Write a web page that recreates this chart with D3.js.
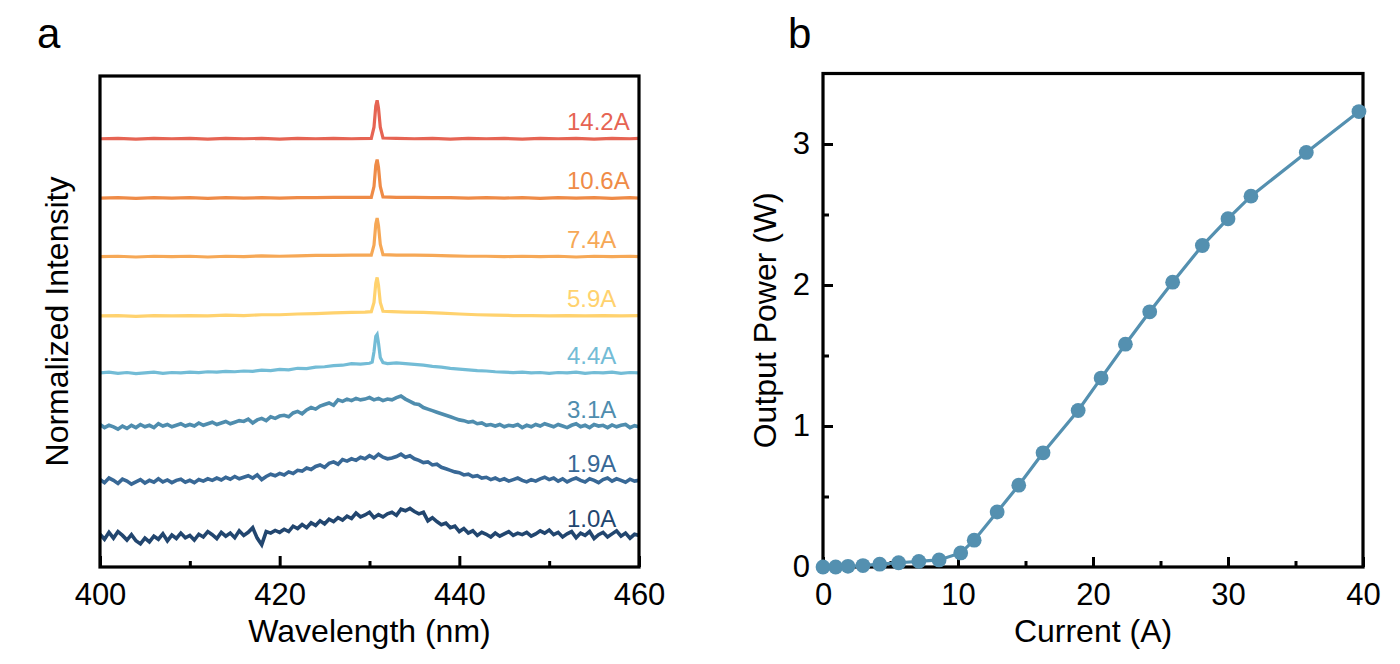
<!DOCTYPE html>
<html><head><meta charset="utf-8">
<script src="https://cdn.jsdelivr.net/npm/d3@7"></script>
<style>
body{margin:0;background:#fff}
svg{display:block;font-family:"Liberation Sans",Arial,Helvetica,sans-serif}
</style>
</head><body>
<svg id="chart" width="1400" height="664"></svg>
<script>
// ---------------- DATA ----------------
// Panel a: spectra
const seriesLabels = ["1.0A","1.9A","3.1A","4.4A","5.9A","7.4A","10.6A","14.2A"];
const seriesOffsets = [0.80, 2.23, 3.64, 5.04, 6.52, 8.06, 9.58, 11.12];
const seriesColors = ["#22466F","#386896","#4F8DAE","#73BCD6","#FFD26E","#F6A856","#EF8B47","#E66453"];
const wavelengthTicks = [400, 420, 440, 460];
const wavelengthMinorTicks = [410, 430, 450];

// dense spectra sampled every 0.5 nm from 400 to 460 nm
const gridStart = 400, gridStep = 0.5;
const spec1p0 = [
 0.05,-0.08,0.10,-0.05,0.12,0.02,-0.10,0.04,-0.12,-0.20,-0.05,-0.15,0.00,-0.08,0.06,-0.12,0.03,-0.06,0.08,-0.04,
 0.02,-0.10,0.05,-0.02,0.12,0.04,-0.06,0.10,0.00,0.08,-0.04,0.14,0.02,0.10,0.22,-0.05,-0.22,0.12,0.08,0.15,
 0.10,0.18,0.12,0.26,0.20,0.30,0.22,0.35,0.28,0.40,0.32,0.44,0.38,0.48,0.42,0.52,0.46,0.60,0.50,0.55,
 0.62,0.48,0.56,0.50,0.58,0.62,0.54,0.70,0.66,0.72,0.64,0.58,0.62,0.40,0.48,0.38,0.30,0.34,0.22,0.26,
 0.12,0.20,0.08,0.14,0.02,0.10,0.05,-0.02,0.08,0.00,0.06,0.12,0.02,0.08,0.04,0.10,0.00,0.06,0.14,0.08,
 0.16,0.04,0.10,-0.02,0.06,0.12,-0.04,0.08,0.02,0.12,-0.06,0.04,0.10,-0.02,0.06,0.14,0.00,0.08,-0.05,0.05,0.02];
const spec1p9 = [
 0.04,-0.04,0.08,0.02,-0.06,0.05,0.00,-0.08,-0.02,0.04,-0.05,0.02,-0.03,0.06,-0.02,0.03,-0.04,0.02,0.05,-0.03,
 0.02,-0.04,0.04,0.00,0.06,0.02,0.08,0.03,0.10,0.05,0.12,0.06,0.10,0.14,0.08,0.16,0.04,0.12,0.18,0.14,
 0.20,0.16,0.24,0.20,0.28,0.26,0.34,0.30,0.38,0.42,0.36,0.46,0.50,0.44,0.56,0.52,0.58,0.54,0.62,0.58,
 0.66,0.60,0.70,0.62,0.58,0.60,0.64,0.70,0.62,0.66,0.58,0.54,0.48,0.50,0.42,0.44,0.36,0.32,0.28,0.24,
 0.22,0.16,0.18,0.12,0.14,0.08,0.10,0.04,0.08,0.02,0.06,0.00,0.04,0.08,0.02,-0.02,0.04,0.00,0.06,0.10,
 0.04,0.08,0.00,0.06,-0.02,0.04,0.08,0.02,-0.02,0.06,0.02,-0.04,0.04,0.08,0.00,0.06,0.02,-0.03,0.05,0.00,0.02];
const spec3p1 = [
 0.06,-0.02,0.04,0.00,-0.06,0.02,-0.04,0.04,-0.02,0.06,0.00,0.04,-0.02,0.08,0.02,0.06,0.00,0.04,0.08,0.02,
 0.06,0.02,0.10,0.04,0.08,0.12,0.06,0.10,0.14,0.08,0.12,0.16,0.14,0.20,0.10,0.18,0.22,0.16,0.26,0.22,
 0.28,0.30,0.26,0.36,0.40,0.34,0.44,0.50,0.46,0.54,0.58,0.62,0.56,0.70,0.66,0.72,0.68,0.74,0.70,0.72,
 0.76,0.70,0.74,0.68,0.72,0.70,0.76,0.80,0.72,0.66,0.60,0.58,0.50,0.46,0.42,0.38,0.34,0.30,0.26,0.22,
 0.18,0.16,0.12,0.14,0.08,0.10,0.04,0.06,0.02,0.06,0.00,0.04,0.02,0.06,-0.02,0.04,0.00,0.06,0.02,0.08,
 0.04,0.00,0.06,0.02,-0.02,0.04,0.08,0.00,0.04,-0.02,0.06,0.02,0.04,-0.02,0.05,0.00,0.04,0.06,-0.02,0.03,0.00];

// sparse spectra as [wavelength nm, intensity]
const spec4p4 = [[400,0.00],[401,0.02],[402,-0.01],[403,0.01],[404,-0.02],[405,0.00],[406,0.02],[407,-0.01],[408,0.01],[409,0.00],
 [410,0.02],[411,0.01],[412,0.03],[413,0.02],[414,0.04],[415,0.03],[416,0.05],[417,0.04],[418,0.07],[419,0.06],
 [420,0.09],[421,0.08],[422,0.12],[423,0.11],[424,0.15],[425,0.16],[426,0.19],[427,0.20],[428,0.24],[429,0.23],
 [430,0.25],[430.3,0.28],[430.5,0.55],[430.7,0.95],[430.85,1.0],[431.0,0.78],[431.2,0.40],[431.5,0.27],[432,0.24],[433,0.26],
 [434,0.24],[435,0.22],[436,0.20],[437,0.17],[438,0.15],[439,0.12],[440,0.10],[441,0.08],[442,0.06],[443,0.05],
 [444,0.03],[445,0.02],[446,0.01],[447,0.02],[448,0.00],[449,0.01],[450,-0.01],[451,0.01],[452,0.00],[453,0.02],
 [454,-0.01],[455,0.01],[456,0.00],[457,0.02],[458,-0.01],[459,0.01],[460,0.00]];
const spec5p9 = [[400,0.00],[402,0.01],[404,-0.01],[406,0.01],[408,0.00],[410,0.01],[412,0.00],[414,0.02],[416,0.01],[418,0.03],
 [420,0.03],[422,0.05],[424,0.06],[426,0.08],[428,0.09],[429.5,0.10],[430.2,0.11],[430.5,0.35],[430.7,0.85],[430.85,1.0],
 [431.0,0.80],[431.2,0.35],[431.5,0.12],[432.5,0.11],[434,0.10],[436,0.09],[438,0.07],[440,0.05],[442,0.03],[444,0.02],
 [446,0.01],[448,0.01],[450,0.00],[452,0.01],[454,0.00],[456,0.01],[458,0.00],[460,0.01]];
const spec7p4 = [[400,0.00],[402,0.01],[404,-0.01],[406,0.01],[408,0.00],[410,0.01],[412,-0.01],[414,0.01],[416,0.00],[418,0.02],
 [420,0.01],[422,0.02],[424,0.03],[426,0.03],[428,0.04],[430.2,0.04],[430.5,0.30],[430.7,0.85],[430.85,1.0],[431.0,0.80],
 [431.2,0.32],[431.5,0.05],[433,0.04],[435,0.04],[437,0.03],[439,0.02],[441,0.01],[443,0.01],[445,0.00],[447,0.01],
 [449,0.00],[451,0.01],[453,-0.01],[455,0.01],[457,0.00],[459,0.01],[460,0.00]];
const spec10p6 = [[400,0.00],[402,0.01],[404,-0.01],[406,0.01],[408,0.00],[410,0.01],[412,-0.01],[414,0.01],[416,0.00],[418,0.01],
 [420,0.00],[422,0.01],[424,0.01],[426,0.02],[428,0.02],[430.2,0.02],[430.5,0.30],[430.7,0.85],[430.85,1.0],[431.0,0.80],
 [431.2,0.30],[431.5,0.03],[433,0.02],[435,0.02],[437,0.01],[439,0.01],[441,0.00],[443,0.01],[445,0.00],[447,0.01],
 [449,-0.01],[451,0.01],[453,0.00],[455,0.01],[457,-0.01],[459,0.01],[460,0.00]];
const spec14p2 = [[400,0.00],[402,0.01],[404,-0.01],[406,0.01],[408,0.00],[410,0.01],[412,-0.01],[414,0.01],[416,0.00],[418,0.01],
 [420,-0.01],[422,0.01],[424,0.00],[426,0.01],[428,0.00],[430.2,0.01],[430.5,0.30],[430.7,0.85],[430.85,1.0],[431.0,0.80],
 [431.2,0.30],[431.5,0.02],[433,0.01],[435,0.00],[437,0.01],[439,-0.01],[441,0.01],[443,0.00],[445,0.01],[447,-0.01],
 [449,0.01],[451,0.00],[453,0.01],[455,-0.01],[457,0.01],[459,0.00],[460,0.01]];

// Panel b: L-I curve
const currentA = [0, 0.94, 1.85, 2.96, 4.2, 5.6, 7.1, 8.6, 10.2, 11.2, 12.9, 14.5, 16.3, 18.9, 20.6, 22.4, 24.2, 25.9, 28.1, 30.0, 31.7, 35.8, 39.7];
const powerW   = [0, 0, 0.005, 0.01, 0.02, 0.03, 0.04, 0.05, 0.10, 0.19, 0.39, 0.58, 0.81, 1.11, 1.34, 1.58, 1.81, 2.02, 2.28, 2.47, 2.63, 2.94, 3.23];
const currentTicks = [0, 10, 20, 30, 40];
const currentMinorTicks = [5, 15, 25, 35];
const powerTicks = [0, 1, 2, 3];
const powerMinorTicks = [0.5, 1.5, 2.5];

// ---------------- DRAW ----------------
const svg = d3.select("#chart");
const denseToPairs = arr => arr.map((v, i) => [gridStart + i * gridStep, v]);
const spectra = [denseToPairs(spec1p0), denseToPairs(spec1p9), denseToPairs(spec3p1), spec4p4, spec5p9, spec7p4, spec10p6, spec14p2];

const TICK_FONT = 31, TITLE_FONT = 32;

// ---- panel a ----
const L = {x0: 100, x1: 639, y0: 76, y1: 567};
const xL = d3.scaleLinear().domain([400, 460]).range([L.x0, L.x1]);
const yL = d3.scaleLinear().domain([0, 12.75]).range([L.y1, L.y0]);

svg.append("defs").append("clipPath").attr("id", "clipA")
  .append("rect").attr("x", L.x0).attr("y", L.y0).attr("width", L.x1 - L.x0).attr("height", L.y1 - L.y0);

const gA = svg.append("g");
const spectraG = gA.append("g").attr("clip-path", "url(#clipA)");
spectra.forEach((s, k) => {
  const line = d3.line().x(d => xL(d[0])).y(d => yL(d[1] + seriesOffsets[k]));
  spectraG.append("path").datum(s).attr("d", line)
    .attr("fill", "none").attr("stroke", seriesColors[k]).attr("stroke-width", k < 3 ? 3.6 : 3.2)
    .attr("stroke-linejoin", "miter");
});
seriesLabels.forEach((t, k) => {
  gA.append("text").attr("x", 567).attr("y", yL(seriesOffsets[k]) - 9)
    .attr("fill", seriesColors[k]).attr("font-size", 24).text(t);
});

function styleAxis(g) {
  g.select(".domain").remove();
  g.selectAll(".tick line").attr("stroke", "#000").attr("stroke-width", 3);
  g.selectAll(".tick text").attr("font-size", TICK_FONT).attr("fill", "#000").attr("font-family", "Liberation Sans, Arial, sans-serif");
}
gA.append("g").attr("transform", `translate(0,${L.y1})`)
  .call(d3.axisBottom(xL).tickValues(wavelengthTicks).tickSize(-11).tickPadding(16).tickFormat(d3.format("d")))
  .call(styleAxis);
gA.append("g").attr("transform", `translate(0,${L.y1})`)
  .call(d3.axisBottom(xL).tickValues(wavelengthMinorTicks).tickSize(-6).tickFormat(""))
  .call(styleAxis);
gA.append("rect").attr("x", L.x0).attr("y", L.y0).attr("width", L.x1 - L.x0).attr("height", L.y1 - L.y0)
  .attr("fill", "none").attr("stroke", "#000").attr("stroke-width", 3.2);

gA.append("text").attr("x", (L.x0 + L.x1) / 2).attr("y", 642).attr("text-anchor", "middle")
  .attr("font-size", TITLE_FONT).text("Wavelength (nm)");
gA.append("text").attr("transform", `translate(68,${(L.y0 + L.y1) / 2}) rotate(-90)`)
  .attr("text-anchor", "middle").attr("font-size", TITLE_FONT).text("Normalized Intensity");
svg.append("text").attr("x", 37).attr("y", 48).attr("font-size", 42).text("a");

// ---- panel b ----
const R = {x0: 823, x1: 1363, y0: 73.5, y1: 567};
const xR = d3.scaleLinear().domain([0, 40]).range([R.x0, R.x1]);
const yR = d3.scaleLinear().domain([0, 3.5]).range([R.y1, R.y0]);
const gB = svg.append("g");

gB.append("g").attr("transform", `translate(0,${R.y1})`)
  .call(d3.axisBottom(xR).tickValues(currentTicks).tickSize(-10).tickPadding(16).tickFormat(d3.format("d")))
  .call(styleAxis);
gB.append("g").attr("transform", `translate(0,${R.y1})`)
  .call(d3.axisBottom(xR).tickValues(currentMinorTicks).tickSize(-6).tickFormat(""))
  .call(styleAxis);
gB.append("g").attr("transform", `translate(${R.x0},0)`)
  .call(d3.axisLeft(yR).tickValues(powerTicks).tickSize(-10).tickPadding(13).tickFormat(d3.format("d")))
  .call(styleAxis);
gB.append("g").attr("transform", `translate(${R.x0},0)`)
  .call(d3.axisLeft(yR).tickValues(powerMinorTicks).tickSize(-6).tickFormat(""))
  .call(styleAxis);
gB.append("rect").attr("x", R.x0).attr("y", R.y0).attr("width", R.x1 - R.x0).attr("height", R.y1 - R.y0)
  .attr("fill", "none").attr("stroke", "#000").attr("stroke-width", 3.2);

const liData = currentA.map((c, i) => [c, powerW[i]]);
const liColor = "#5490B0";
gB.append("path").datum(liData)
  .attr("d", d3.line().x(d => xR(d[0])).y(d => yR(d[1])))
  .attr("fill", "none").attr("stroke", liColor).attr("stroke-width", 3.2);
gB.selectAll("circle.pt").data(liData).enter().append("circle").attr("class", "pt")
  .attr("cx", d => xR(d[0])).attr("cy", d => yR(d[1])).attr("r", 7.4).attr("fill", liColor);

gB.append("text").attr("x", (R.x0 + R.x1) / 2).attr("y", 642).attr("text-anchor", "middle")
  .attr("font-size", TITLE_FONT).text("Current (A)");
gB.append("text").attr("transform", `translate(776,${(R.y0 + R.y1) / 2}) rotate(-90)`)
  .attr("text-anchor", "middle").attr("font-size", TITLE_FONT).text("Output Power (W)");
svg.append("text").attr("x", 788).attr("y", 48).attr("font-size", 42).text("b");
</script>
</body></html>
